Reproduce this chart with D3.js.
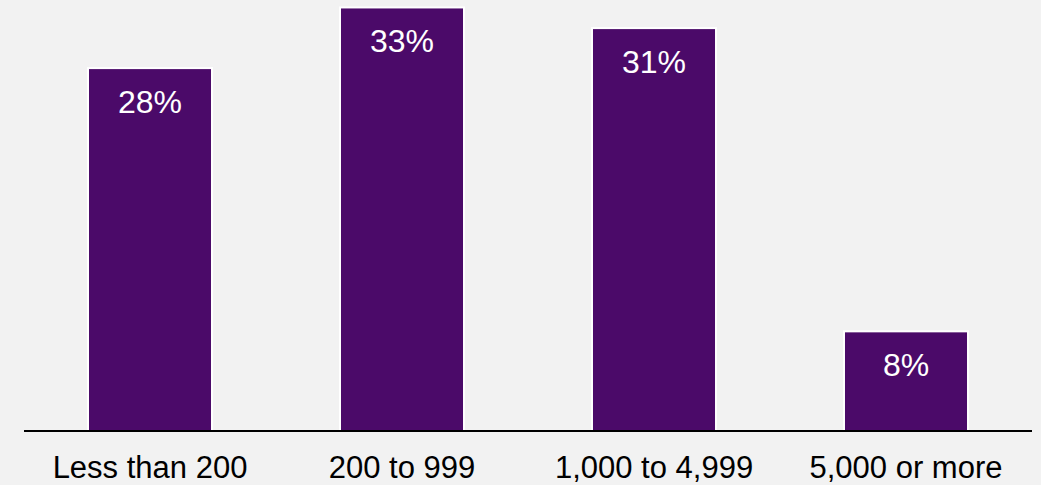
<!DOCTYPE html>
<head>
	<meta charset="utf-8">
	<script src="https://d3js.org/d3.v7.min.js"></script>
	<style>
		body { margin: 0; background: #f2f2f2; }
		svg { display: block; }
		text { font-family: "Liberation Sans", Arial, sans-serif; }
	</style>
</head>
<body>
	<script>
		// chart data
		var categories = ["Less than 200", "200 to 999", "1,000 to 4,999", "5,000 or more"];
		var values = [28.2, 32.9, 31.3, 7.8];
		var labels = ["28%", "33%", "31%", "8%"];

		var w = 1041, h = 485;
		var baseline = 431;

		var svg = d3.select("body").append("svg")
			.attr("width", w)
			.attr("height", h);

		svg.append("rect")
			.attr("width", w).attr("height", h)
			.attr("fill", "#f2f2f2");

		var xScale = d3.scaleBand()
			.domain(categories)
			.range([24, 1032])
			.paddingInner(0.5)
			.paddingOuter(0.25);

		var yScale = d3.scaleLinear()
			.domain([0, 33.4])
			.range([baseline, 0]);

		var data = categories.map(function(c, i) {
			return {cat: c, value: values[i], label: labels[i]};
		});

		svg.selectAll("rect.bar")
			.data(data)
			.enter()
			.append("rect")
			.attr("class", "bar")
			.attr("x", function(d) { return xScale(d.cat) + 1; })
			.attr("y", function(d) { return yScale(d.value) + 1; })
			.attr("width", xScale.bandwidth() - 2)
			.attr("height", function(d) { return baseline - yScale(d.value) - 1; })
			.attr("fill", "#4b0a69")
			.attr("stroke", "#ffffff")
			.attr("stroke-width", 2);

		svg.selectAll("text.val")
			.data(data)
			.enter()
			.append("text")
			.attr("class", "val")
			.attr("x", function(d) { return xScale(d.cat) + xScale.bandwidth() / 2; })
			.attr("y", function(d) { return yScale(d.value) + 46; })
			.attr("text-anchor", "middle")
			.attr("fill", "#ffffff")
			.attr("font-size", "32px")
			.text(function(d) { return d.label; });

		// x axis
		var xAxis = d3.axisBottom(xScale).tickSize(0).tickPadding(25);
		var gx = svg.append("g")
			.attr("transform", "translate(0," + baseline + ")")
			.call(xAxis);
		gx.select(".domain")
			.attr("stroke", "#000")
			.attr("stroke-width", 2)
			.attr("d", "M24,0H1032");
		gx.selectAll(".tick text")
			.attr("font-size", "31px")
			.attr("font-family", "Liberation Sans, Arial, sans-serif")
			.attr("fill", "#000")
			.attr("dy", "0.71em");
	</script>
</body>
